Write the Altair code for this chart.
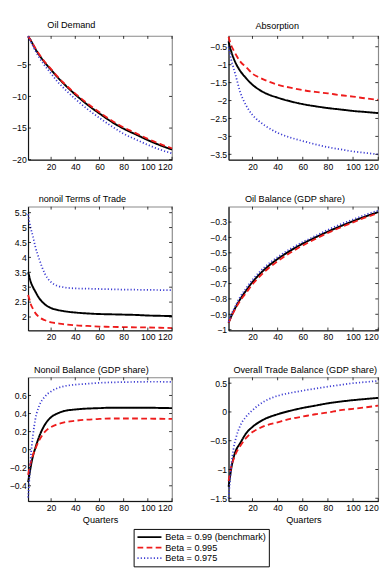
import altair as alt
import pandas as pd

# ---------------- data ----------------
QUARTERS = [1, 2, 3, 5, 7, 10, 15, 20, 25, 30, 40, 50, 60, 70, 80, 90, 100, 110, 120]
SERIES = ["Beta = 0.99 (benchmark)", "Beta = 0.995", "Beta = 0.975"]
X_TICKS = [20, 40, 60, 80, 100, 120]

oil_demand_b = [-0.5, -0.8, -1.1, -1.8, -2.5, -3.4, -4.7, -5.8, -6.9, -7.9, -9.7, -11.3, -12.7, -14.0, -15.1, -16.0, -16.9, -17.7, -18.4]
oil_demand_r = [-0.5, -0.8, -1.1, -1.75, -2.4, -3.3, -4.6, -5.7, -6.8, -7.8, -9.55, -11.1, -12.5, -13.8, -14.9, -15.8, -16.7, -17.5, -18.2]
oil_demand_bl = [-0.5, -0.9, -1.3, -2.05, -2.8, -3.8, -5.2, -6.4, -7.6, -8.6, -10.4, -12.0, -13.4, -14.7, -15.9, -16.8, -17.65, -18.4, -19.0]

absorption_b = [-0.35, -0.5, -0.62, -0.82, -0.98, -1.16, -1.38, -1.56, -1.69, -1.79, -1.92, -2.02, -2.1, -2.16, -2.21, -2.25, -2.29, -2.32, -2.35]
absorption_r = [-0.22, -0.35, -0.45, -0.6, -0.73, -0.9, -1.07, -1.25, -1.35, -1.43, -1.56, -1.64, -1.71, -1.76, -1.8, -1.85, -1.89, -1.94, -1.98]
absorption_bl = [-0.5, -0.68, -0.85, -1.1, -1.35, -1.74, -2.14, -2.4, -2.57, -2.7, -2.9, -3.03, -3.13, -3.22, -3.3, -3.36, -3.42, -3.46, -3.5]

tot_b = [3.5, 3.35, 3.2, 3.0, 2.85, 2.64, 2.42, 2.3, 2.24, 2.2, 2.15, 2.12, 2.1, 2.09, 2.08, 2.07, 2.05, 2.04, 2.03]
tot_r = [2.74, 2.6, 2.45, 2.27, 2.13, 2.0, 1.89, 1.82, 1.79, 1.76, 1.72, 1.7, 1.68, 1.67, 1.66, 1.655, 1.65, 1.64, 1.63]
tot_bl = [5.45, 5.2, 5.0, 4.7, 4.35, 3.96, 3.44, 3.17, 3.05, 3.0, 2.96, 2.95, 2.94, 2.93, 2.92, 2.915, 2.91, 2.905, 2.9]

oilbal_b = [-0.955, -0.935, -0.915, -0.88, -0.848, -0.805, -0.745, -0.69, -0.645, -0.605, -0.54, -0.487, -0.44, -0.4, -0.362, -0.327, -0.294, -0.263, -0.235]
oilbal_r = [-0.955, -0.937, -0.92, -0.885, -0.855, -0.815, -0.76, -0.705, -0.66, -0.62, -0.555, -0.5, -0.452, -0.41, -0.37, -0.335, -0.302, -0.27, -0.242]
oilbal_bl = [-0.95, -0.928, -0.905, -0.87, -0.835, -0.79, -0.73, -0.675, -0.63, -0.59, -0.528, -0.475, -0.43, -0.39, -0.35, -0.315, -0.283, -0.252, -0.225]

nonoil_b = [-0.36, -0.28, -0.2, -0.07, 0.02, 0.14, 0.28, 0.36, 0.4, 0.425, 0.445, 0.455, 0.46, 0.465, 0.465, 0.465, 0.465, 0.462, 0.46]
nonoil_r = [-0.28, -0.21, -0.15, -0.06, 0.01, 0.1, 0.2, 0.25, 0.28, 0.3, 0.32, 0.333, 0.34, 0.345, 0.345, 0.345, 0.343, 0.342, 0.34]
nonoil_bl = [-0.53, -0.33, -0.11, 0.16, 0.34, 0.48, 0.59, 0.645, 0.68, 0.7, 0.72, 0.73, 0.74, 0.745, 0.748, 0.75, 0.752, 0.752, 0.75]

trade_b = [-1.3, -1.15, -1.0, -0.79, -0.66, -0.55, -0.37, -0.26, -0.18, -0.12, -0.04, 0.02, 0.07, 0.11, 0.15, 0.18, 0.205, 0.225, 0.245]
trade_r = [-1.2, -1.08, -0.96, -0.82, -0.71, -0.6, -0.45, -0.35, -0.29, -0.24, -0.18, -0.12, -0.08, -0.04, -0.01, 0.03, 0.055, 0.08, 0.11]
trade_bl = [-1.5, -1.23, -0.96, -0.63, -0.44, -0.25, -0.08, 0.03, 0.12, 0.19, 0.28, 0.33, 0.37, 0.405, 0.44, 0.47, 0.5, 0.52, 0.54]

# ---------------- styling ----------------
FONT = "Liberation Sans"
COLORS = ["#000000", "#ee1c1c", "#3c3cd2"]
DASHES = [[1, 0], [6, 3.5], [1.2, 2.2]]
WIDTHS = [2.0, 1.8, 1.3]
W_LEFT, W_RIGHT, H = 150, 156, 129
TICK = 3

panels = [
    dict(title="Oil Demand", vals=[oil_demand_b, oil_demand_r, oil_demand_bl],
         ydom=[-20, -0.45], yticks=[-20, -15, -10, -5], dx=20, w=W_LEFT),
    dict(title="Absorption", vals=[absorption_b, absorption_r, absorption_bl],
         ydom=[-3.65, -0.2], yticks=[-3.5, -3, -2.5, -2, -1.5, -1, -0.5], dx=28, w=W_RIGHT),
    dict(title="nonoil Terms of Trade", vals=[tot_b, tot_r, tot_bl],
         ydom=[1.55, 5.7], yticks=[2, 2.5, 3, 3.5, 4, 4.5, 5, 5.5], dx=11, w=W_LEFT),
    dict(title="Oil Balance (GDP share)", vals=[oilbal_b, oilbal_r, oilbal_bl],
         ydom=[-1.005, -0.2], yticks=[-1, -0.9, -0.8, -0.7, -0.6, -0.5, -0.4, -0.3], dx=17, w=W_RIGHT),
    dict(title="Nonoil Balance (GDP share)", vals=[nonoil_b, nonoil_r, nonoil_bl],
         ydom=[-0.57, 0.8], yticks=[-0.4, -0.2, 0, 0.2, 0.4, 0.6], dx=6, w=W_LEFT),
    dict(title="Overall Trade Balance (GDP share)", vals=[trade_b, trade_r, trade_bl],
         ydom=[-1.55, 0.6], yticks=[-1.5, -1, -0.5, 0, 0.5], dx=5, w=W_RIGHT),
]

legend = alt.Legend(
    title=None, orient="none", legendX=110, legendY=514,
    strokeColor="black", fillColor="white", padding=3, cornerRadius=0,
    labelFont=FONT, labelFontSize=9.5, labelColor="black", labelOffset=3,
    symbolType="stroke", symbolSize=625, symbolStrokeWidth=1.8,
    clipHeight=11, rowPadding=0,
)


def make_panel(i, p):
    w = p["w"]
    bottom = i >= 4
    rows = []
    for s, vals in zip(SERIES, p["vals"]):
        for q, v in zip(QUARTERS, vals):
            rows.append({"quarter": q, "value": v, "series": s})
    df = pd.DataFrame(rows)
    xscale = alt.Scale(domain=[1, 120], nice=False, zero=False)
    yscale = alt.Scale(domain=p["ydom"], nice=False, zero=False)
    xaxis = alt.Axis(values=X_TICKS, ticks=False, grid=False, labelPadding=3,
                     title="Quarters" if bottom else None, titlePadding=2)
    yaxis = alt.Axis(values=p["yticks"], ticks=False, grid=False, format="~g",
                     labelPadding=2, minExtent=18, maxExtent=18, title=None)
    X = alt.X("quarter:Q", scale=xscale, axis=xaxis)
    Y = alt.Y("value:Q", scale=yscale, axis=yaxis)

    lines = alt.Chart(df).mark_line(interpolate="monotone").encode(
        x=X, y=Y,
        color=alt.Color("series:N", scale=alt.Scale(domain=SERIES, range=COLORS), legend=legend),
        strokeDash=alt.StrokeDash("series:N", scale=alt.Scale(domain=SERIES, range=DASHES), legend=legend),
        strokeWidth=alt.StrokeWidth("series:O", scale=alt.Scale(domain=SERIES, range=WIDTHS), legend=None),
    )

    # inward tick marks on all four sides (Matlab style)
    xt = pd.DataFrame({"quarter": X_TICKS})
    yt = pd.DataFrame({"value": p["yticks"]})
    tick_style = dict(color="black", strokeWidth=0.8)
    xb = alt.Chart(xt).mark_rule(**tick_style).encode(x=X, y=alt.value(H), y2=alt.value(H - TICK))
    xtop = alt.Chart(xt).mark_rule(**tick_style).encode(x=X, y=alt.value(0), y2=alt.value(TICK))
    yl = alt.Chart(yt).mark_rule(**tick_style).encode(y=Y, x=alt.value(0), x2=alt.value(TICK))
    yr = alt.Chart(yt).mark_rule(**tick_style).encode(y=Y, x=alt.value(w - TICK), x2=alt.value(w))

    return alt.layer(lines, xb, xtop, yl, yr).properties(
        width=w, height=H,
        title=alt.TitleParams(p["title"], anchor="start", frame="group", dx=p["dx"],
                              fontSize=9.5, fontWeight="normal", font=FONT,
                              color="black", offset=3),
    )


charts = [make_panel(i, p) for i, p in enumerate(panels)]

chart = alt.concat(*charts, columns=2, spacing={"row": 22, "column": 33}).properties(
    padding={"left": 0, "top": 0, "right": 0, "bottom": 0},
    background="white",
    autosize=alt.AutoSizeParams(type="pad"),
).configure(
    padding={"left": 0, "top": 0, "right": 0, "bottom": 0},
).configure_view(
    stroke="#8a8a8a", strokeWidth=1.2
).configure_axis(
    labelFont=FONT, labelFontSize=9, labelColor="black",
    titleFont=FONT, titleFontSize=9.5, titleFontWeight="normal", titleColor="black",
    domainColor="black", domainWidth=1,
)

chart.save("out.html", embed_options={"renderer": "svg", "actions": False})
